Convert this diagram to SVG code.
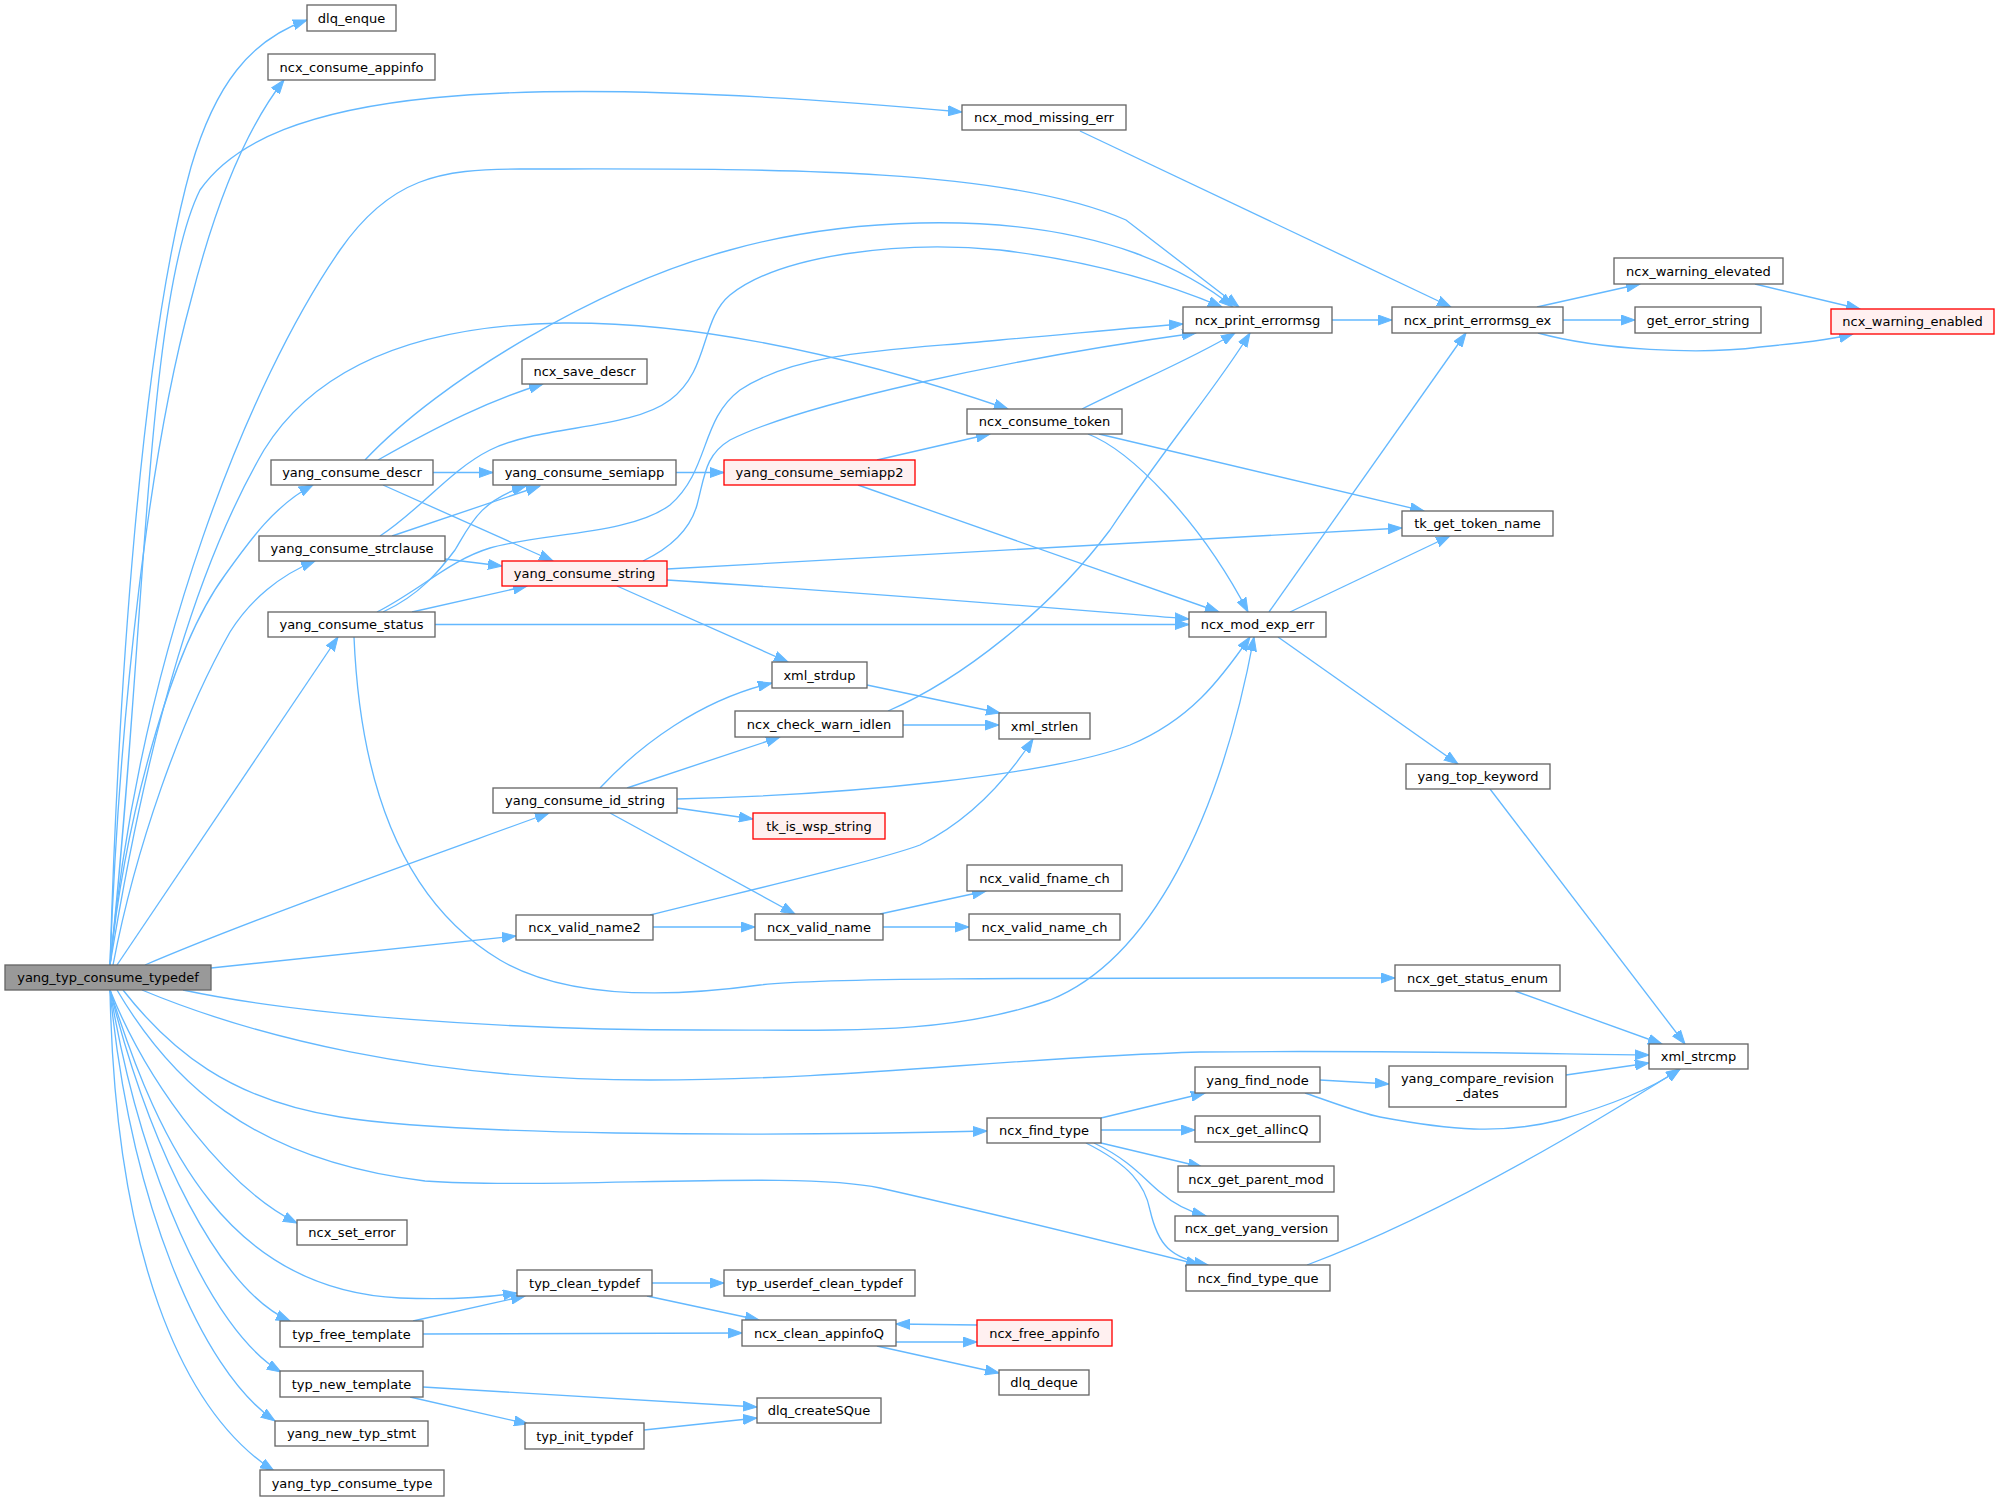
<svg xmlns="http://www.w3.org/2000/svg" width="1999" height="1499" viewBox="0 0 1999 1499">
<style>
.n rect{fill:#ffffff;stroke:#666666;stroke-width:1.33}
.n.red rect{fill:#fff0f0;stroke:#ff0000}
.n.root rect{fill:#999999;stroke:#666666}
.n text{font-family:"DejaVu Sans","Liberation Sans",sans-serif;font-size:13px;fill:#000000;text-anchor:middle}
.e path{fill:none;stroke:#63b8ff;stroke-width:1.33;marker-end:url(#arr)}
</style>
<defs>
<marker id="arr" markerUnits="userSpaceOnUse" markerWidth="15" markerHeight="11" refX="14" refY="5.5" orient="auto">
<path d="M0,0.5 L14,5.5 L0,10.5 z" fill="#63b8ff" stroke="#63b8ff" stroke-width="1"/>
</marker>
</defs>
<rect x="0" y="0" width="1999" height="1499" fill="#ffffff"/>
<g id="edges" class="e">
<path d="M110,965 C118,700 140,350 191,167 C215,85 250,40 307,20"/>
<path d="M110,965 C120,700 150,450 191,300 C215,205 245,130 284,80"/>
<path d="M110,965 C145,650 145,300 200,190 C270,90 500,70 962,112"/>
<path d="M110,965 C140,650 250,380 340,250 C390,178 440,169 520,169 C750,169 1000,165 1126,220 L1239,307"/>
<path d="M110,965 C150,720 200,560 264,450 C320,360 430,325 563,323 C700,322 850,355 1008,409"/>
<path d="M110,965 C125,820 170,650 225,575 C250,540 275,505 313,485"/>
<path d="M113,965 C135,850 180,720 230,632 C250,600 280,575 315,561"/>
<path d="M117,965 L338,637"/>
<path d="M145,965 C250,920 420,860 549,813"/>
<path d="M211,968 L516,936"/>
<path d="M183,990 C300,1015 500,1030 700,1030 C850,1030 950,1035 1050,1000 C1150,960 1220,820 1254,637"/>
<path d="M142,990 C250,1035 420,1080 650,1080 C850,1080 1000,1058 1200,1052 C1400,1050 1550,1054 1649,1055"/>
<path d="M123,990 C170,1050 230,1100 340,1117 C450,1135 750,1137 987,1131"/>
<path d="M117,990 C170,1080 250,1160 425,1181 C550,1190 800,1170 880,1188 C1000,1215 1100,1240 1200,1265"/>
<path d="M110,990 C150,1090 230,1190 297,1223"/>
<path d="M110,990 C160,1150 230,1290 400,1298 C450,1300 490,1297 517,1293"/>
<path d="M110,990 C150,1150 220,1290 290,1321"/>
<path d="M110,990 C140,1170 210,1330 281,1372"/>
<path d="M110,990 C130,1200 200,1370 275,1421"/>
<path d="M110,990 C115,1250 180,1410 274,1471"/>
<path d="M365,460 C440,380 600,285 730,250 C830,222 1000,205 1135,253 C1180,270 1210,288 1233,307"/>
<path d="M378,460 C440,425 490,400 543,384"/>
<path d="M433,472.5 L493,472.5"/>
<path d="M383,485 L553,561"/>
<path d="M380,536 C420,510 450,470 490,450 C540,425 630,430 670,400 C710,370 700,320 730,295 C780,255 900,240 1000,250 C1100,262 1170,285 1222,307"/>
<path d="M392,536 L540,486"/>
<path d="M445,559 L502,566"/>
<path d="M377,612 C420,590 450,560 490,548 C540,533 630,535 670,505 C710,470 700,420 740,390 C800,350 900,350 1000,340 C1080,333 1140,327 1183,324"/>
<path d="M383,612 C420,595 440,570 455,550 C470,525 480,500 526,486"/>
<path d="M412,612 L527,586"/>
<path d="M435,624.5 L1189,624.5"/>
<path d="M354,637 C360,780 400,900 500,960 C560,995 650,1000 760,985 C820,978 1000,978 1395,978"/>
<path d="M676,472.5 L724,472.5"/>
<path d="M877,460 L990,434"/>
<path d="M858,485 L1219,612"/>
<path d="M643,561 C670,548 690,530 697,505 C705,475 705,455 730,440 C800,405 1000,360 1196,333"/>
<path d="M667,569 L1402,528"/>
<path d="M667,580 C900,595 1050,608 1189,619"/>
<path d="M617,586 L788,662"/>
<path d="M1080,131 L1451,307"/>
<path d="M1332,320 L1392,320"/>
<path d="M1537,307 L1640,284"/>
<path d="M1563,320 L1635,320"/>
<path d="M1538,333 C1600,350 1700,355 1760,347 C1800,343 1830,340 1853,334"/>
<path d="M1755,284 L1860,309"/>
<path d="M1082,409 C1140,380 1190,360 1235,333"/>
<path d="M1099,434 L1424,511"/>
<path d="M1088,434 C1130,450 1200,520 1248,612"/>
<path d="M1269,612 L1466,333"/>
<path d="M1290,612 L1450,536"/>
<path d="M1278,637 L1458,764"/>
<path d="M1490,789 L1685,1044"/>
<path d="M867,685 L1000,713"/>
<path d="M888,711 C960,680 1050,610 1110,530 C1170,440 1215,390 1250,333"/>
<path d="M903,725 L999,725"/>
<path d="M600,788 C640,745 700,700 772,683"/>
<path d="M627,788 L780,737"/>
<path d="M677,799 C850,795 1050,775 1130,745 C1190,720 1220,680 1250,637"/>
<path d="M677,808 L753,819"/>
<path d="M610,813 L795,914"/>
<path d="M650,915 C750,890 880,860 920,845 C960,825 1000,790 1033,739"/>
<path d="M653,927 L755,927"/>
<path d="M880,914 L986,891"/>
<path d="M883,927 L969,927"/>
<path d="M1515,991 L1662,1044"/>
<path d="M1566,1075 L1649,1063"/>
<path d="M1320,1080 L1389,1084"/>
<path d="M1305,1093 C1340,1105 1360,1113 1380,1117 C1450,1130 1500,1135 1560,1120 C1610,1105 1650,1090 1680,1069"/>
<path d="M1307,1265 C1400,1230 1520,1170 1680,1069"/>
<path d="M1101,1118 L1205,1093"/>
<path d="M1101,1130 L1195,1130"/>
<path d="M1101,1143 L1202,1167"/>
<path d="M1094,1143 C1130,1160 1145,1180 1160,1192 C1175,1205 1190,1212 1206,1216"/>
<path d="M1086,1143 C1130,1165 1145,1185 1150,1210 C1158,1245 1170,1258 1208,1265"/>
<path d="M652,1283 L724,1283"/>
<path d="M647,1296 L759,1320"/>
<path d="M413,1321 L525,1296"/>
<path d="M423,1334 L742,1333"/>
<path d="M896,1342 L977,1342"/>
<path d="M977,1325 L896,1324"/>
<path d="M877,1346 L999,1373"/>
<path d="M423,1387 L757,1407"/>
<path d="M410,1397 L528,1424"/>
<path d="M644,1430 L757,1418"/>
</g>
<g id="n_yang_typ_consume_typedef" class="n root"><rect x="5" y="965" width="206" height="25"/><text x="108" y="982">yang_typ_consume_typedef</text></g>
<g id="n_dlq_enque" class="n"><rect x="307" y="5" width="89" height="26"/><text x="351.5" y="22.5">dlq_enque</text></g>
<g id="n_ncx_consume_appinfo" class="n"><rect x="268" y="54" width="167" height="26"/><text x="351.5" y="71.5">ncx_consume_appinfo</text></g>
<g id="n_ncx_mod_missing_err" class="n"><rect x="962" y="105" width="164" height="25"/><text x="1044" y="122">ncx_mod_missing_err</text></g>
<g id="n_ncx_print_errormsg" class="n"><rect x="1183" y="307" width="149" height="26"/><text x="1257.5" y="324.5">ncx_print_errormsg</text></g>
<g id="n_ncx_print_errormsg_ex" class="n"><rect x="1392" y="307" width="171" height="26"/><text x="1477.5" y="324.5">ncx_print_errormsg_ex</text></g>
<g id="n_ncx_warning_elevated" class="n"><rect x="1614" y="258" width="169" height="26"/><text x="1698.5" y="275.5">ncx_warning_elevated</text></g>
<g id="n_get_error_string" class="n"><rect x="1635" y="307" width="126" height="26"/><text x="1698" y="324.5">get_error_string</text></g>
<g id="n_ncx_warning_enabled" class="n red"><rect x="1831" y="309" width="163" height="25"/><text x="1912.5" y="326">ncx_warning_enabled</text></g>
<g id="n_ncx_save_descr" class="n"><rect x="522" y="359" width="125" height="25"/><text x="584.5" y="376">ncx_save_descr</text></g>
<g id="n_ncx_consume_token" class="n"><rect x="967" y="409" width="155" height="25"/><text x="1044.5" y="426">ncx_consume_token</text></g>
<g id="n_yang_consume_descr" class="n"><rect x="271" y="460" width="162" height="25"/><text x="352" y="477">yang_consume_descr</text></g>
<g id="n_yang_consume_semiapp" class="n"><rect x="493" y="460" width="183" height="25"/><text x="584.5" y="477">yang_consume_semiapp</text></g>
<g id="n_yang_consume_semiapp2" class="n red"><rect x="724" y="460" width="191" height="25"/><text x="819.5" y="477">yang_consume_semiapp2</text></g>
<g id="n_tk_get_token_name" class="n"><rect x="1402" y="511" width="151" height="25"/><text x="1477.5" y="528">tk_get_token_name</text></g>
<g id="n_yang_consume_strclause" class="n"><rect x="259" y="536" width="186" height="25"/><text x="352" y="553">yang_consume_strclause</text></g>
<g id="n_yang_consume_string" class="n red"><rect x="502" y="561" width="165" height="25"/><text x="584.5" y="578">yang_consume_string</text></g>
<g id="n_yang_consume_status" class="n"><rect x="268" y="612" width="167" height="25"/><text x="351.5" y="629">yang_consume_status</text></g>
<g id="n_ncx_mod_exp_err" class="n"><rect x="1189" y="612" width="137" height="25"/><text x="1257.5" y="629">ncx_mod_exp_err</text></g>
<g id="n_xml_strdup" class="n"><rect x="772" y="662" width="95" height="26"/><text x="819.5" y="679.5">xml_strdup</text></g>
<g id="n_ncx_check_warn_idlen" class="n"><rect x="735" y="711" width="168" height="26"/><text x="819" y="728.5">ncx_check_warn_idlen</text></g>
<g id="n_xml_strlen" class="n"><rect x="999" y="713" width="91" height="26"/><text x="1044.5" y="730.5">xml_strlen</text></g>
<g id="n_yang_top_keyword" class="n"><rect x="1406" y="764" width="144" height="25"/><text x="1478" y="781">yang_top_keyword</text></g>
<g id="n_yang_consume_id_string" class="n"><rect x="493" y="788" width="184" height="25"/><text x="585" y="805">yang_consume_id_string</text></g>
<g id="n_tk_is_wsp_string" class="n red"><rect x="753" y="813" width="132" height="26"/><text x="819" y="830.5">tk_is_wsp_string</text></g>
<g id="n_ncx_valid_fname_ch" class="n"><rect x="967" y="865" width="155" height="26"/><text x="1044.5" y="882.5">ncx_valid_fname_ch</text></g>
<g id="n_ncx_valid_name2" class="n"><rect x="516" y="915" width="137" height="25"/><text x="584.5" y="932">ncx_valid_name2</text></g>
<g id="n_ncx_valid_name" class="n"><rect x="755" y="914" width="128" height="26"/><text x="819" y="931.5">ncx_valid_name</text></g>
<g id="n_ncx_valid_name_ch" class="n"><rect x="969" y="914" width="151" height="26"/><text x="1044.5" y="931.5">ncx_valid_name_ch</text></g>
<g id="n_ncx_get_status_enum" class="n"><rect x="1395" y="965" width="165" height="26"/><text x="1477.5" y="982.5">ncx_get_status_enum</text></g>
<g id="n_xml_strcmp" class="n"><rect x="1649" y="1044" width="99" height="25"/><text x="1698.5" y="1061">xml_strcmp</text></g>
<g id="n_yang_find_node" class="n"><rect x="1195" y="1067" width="125" height="26"/><text x="1257.5" y="1084.5">yang_find_node</text></g>
<g id="n_yang_compare_revision_dates" class="n"><rect x="1389" y="1066" width="177" height="41"/><text x="1477.5" y="1082.5">yang_compare_revision</text><text x="1477.5" y="1098">_dates</text></g>
<g id="n_ncx_find_type" class="n"><rect x="987" y="1118" width="114" height="25"/><text x="1044" y="1135">ncx_find_type</text></g>
<g id="n_ncx_get_allincQ" class="n"><rect x="1195" y="1116" width="125" height="26"/><text x="1257.5" y="1133.5">ncx_get_allincQ</text></g>
<g id="n_ncx_get_parent_mod" class="n"><rect x="1178" y="1166" width="156" height="26"/><text x="1256" y="1183.5">ncx_get_parent_mod</text></g>
<g id="n_ncx_get_yang_version" class="n"><rect x="1175" y="1216" width="163" height="25"/><text x="1256.5" y="1233">ncx_get_yang_version</text></g>
<g id="n_ncx_set_error" class="n"><rect x="297" y="1220" width="110" height="25"/><text x="352" y="1237">ncx_set_error</text></g>
<g id="n_ncx_find_type_que" class="n"><rect x="1186" y="1265" width="144" height="26"/><text x="1258" y="1282.5">ncx_find_type_que</text></g>
<g id="n_typ_clean_typdef" class="n"><rect x="517" y="1270" width="135" height="26"/><text x="584.5" y="1287.5">typ_clean_typdef</text></g>
<g id="n_typ_userdef_clean_typdef" class="n"><rect x="724" y="1270" width="191" height="26"/><text x="819.5" y="1287.5">typ_userdef_clean_typdef</text></g>
<g id="n_typ_free_template" class="n"><rect x="280" y="1321" width="143" height="26"/><text x="351.5" y="1338.5">typ_free_template</text></g>
<g id="n_ncx_clean_appinfoQ" class="n"><rect x="742" y="1320" width="154" height="26"/><text x="819" y="1337.5">ncx_clean_appinfoQ</text></g>
<g id="n_ncx_free_appinfo" class="n red"><rect x="977" y="1320" width="135" height="26"/><text x="1044.5" y="1337.5">ncx_free_appinfo</text></g>
<g id="n_typ_new_template" class="n"><rect x="280" y="1371" width="143" height="26"/><text x="351.5" y="1388.5">typ_new_template</text></g>
<g id="n_dlq_deque" class="n"><rect x="999" y="1370" width="90" height="25"/><text x="1044" y="1387">dlq_deque</text></g>
<g id="n_dlq_createSQue" class="n"><rect x="757" y="1398" width="124" height="25"/><text x="819" y="1415">dlq_createSQue</text></g>
<g id="n_yang_new_typ_stmt" class="n"><rect x="275" y="1421" width="153" height="25"/><text x="351.5" y="1438">yang_new_typ_stmt</text></g>
<g id="n_typ_init_typdef" class="n"><rect x="525" y="1423" width="119" height="26"/><text x="584.5" y="1440.5">typ_init_typdef</text></g>
<g id="n_yang_typ_consume_type" class="n"><rect x="260" y="1470" width="184" height="26"/><text x="352" y="1487.5">yang_typ_consume_type</text></g>
</svg>
